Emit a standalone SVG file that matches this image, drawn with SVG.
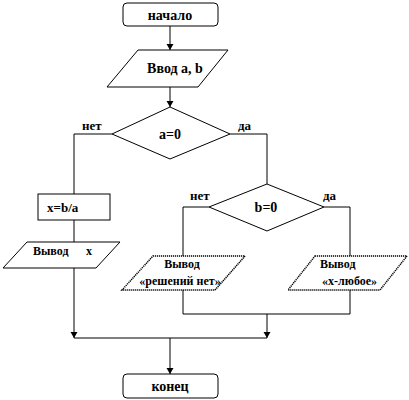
<svg xmlns="http://www.w3.org/2000/svg" width="409" height="400" viewBox="0 0 409 400">
<style>
.s{fill:#fff;stroke:#000;stroke-width:1}
.d{fill:#fff;stroke:#000;stroke-width:1.5;stroke-dasharray:1.2 0.8}
.c{fill:none;stroke:#000;stroke-width:1}
text{font-family:"Liberation Serif",serif;font-weight:bold;fill:#000}
.t{font-size:14px;text-anchor:middle}
.l{font-size:13px}
.p{font-size:12px}
</style>
<defs>
<marker id="a" viewBox="0 0 8 8" refX="7" refY="4" markerWidth="8" markerHeight="8" markerUnits="userSpaceOnUse" orient="auto">
<path d="M1,0.5 L7,4 L1,7.5 Z" fill="#000"/>
</marker>
</defs>
<g id="connectors">
<path class="c" d="M170,26 V50" marker-end="url(#a)"/>
<path class="c" d="M170,87 V107" marker-end="url(#a)"/>
<path class="c" d="M112,134 H74 V194"/>
<path class="c" d="M230,134 H267 V184"/>
<path class="c" d="M74,220 V242"/>
<path class="c" d="M74,268 V338" marker-end="url(#a)"/>
<path class="c" d="M209,207 H183 V256"/>
<path class="c" d="M324,207 H350 V256"/>
<path class="c" d="M183,290 V314 H350 V290"/>
<path class="c" d="M267,314 V338" marker-end="url(#a)"/>
<path class="c" d="M74,338 H267"/>
<path class="c" d="M170,338 V374" marker-end="url(#a)"/>
</g>
<g id="start">
<rect class="s" x="123" y="3" width="95" height="23" rx="4"/>
<text class="t" x="170" y="20">начало</text>
</g>
<g id="input">
<polygon class="s" points="138,50 228,50 198,87 107,87"/>
<text class="t" x="175" y="73">Ввод a, b</text>
</g>
<g id="cond-a">
<polygon class="s" points="170,107 230,134 170,159 112,134"/>
<text class="t" x="170" y="139">a=0</text>
<text class="l" x="82" y="130">нет</text>
<text class="l" x="238" y="130">да</text>
</g>
<g id="calc">
<rect class="s" x="38" y="194" width="72" height="26"/>
<text class="l" x="47" y="212">x=b/a</text>
</g>
<g id="out-x">
<polygon class="s" points="27,242 120,242 96,268 3,268"/>
<text class="p" x="33" y="255">Вывод</text>
<text class="p" x="86" y="255">x</text>
</g>
<g id="cond-b">
<polygon class="s" points="267,184 324,207 267,231 209,207"/>
<text class="t" x="266" y="212">b=0</text>
<text class="l" x="190" y="200">нет</text>
<text class="l" x="323" y="200">да</text>
</g>
<g id="out-none">
<polygon class="d" points="153,256 245,256 215,290 122,290"/>
<text class="p" x="182" y="268" text-anchor="middle">Вывод</text>
<text class="p" x="180" y="285" text-anchor="middle">«решений нет»</text>
</g>
<g id="out-any">
<polygon class="d" points="315,256 407,256 380,290 288,290"/>
<text class="p" x="320" y="268">Вывод</text>
<text class="p" x="322" y="285">«x-любое»</text>
</g>
<g id="end">
<rect class="s" x="123" y="374" width="95" height="24" rx="4"/>
<text class="t" x="170" y="391">конец</text>
</g>
</svg>
